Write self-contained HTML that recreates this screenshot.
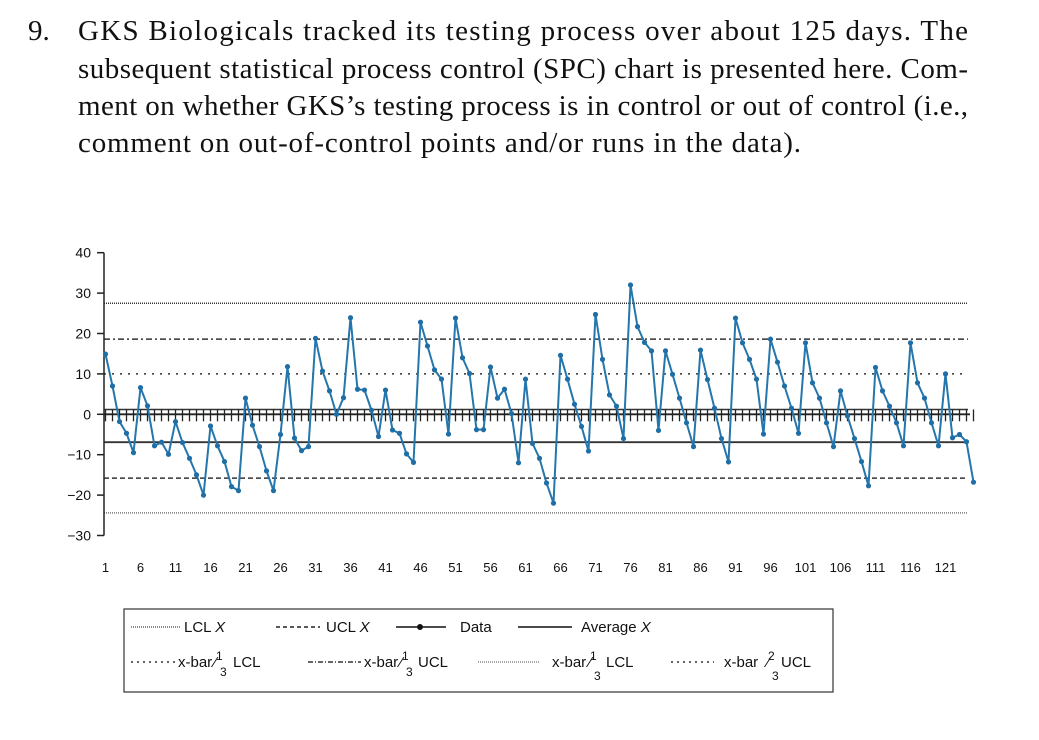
<!DOCTYPE html>
<html><head><meta charset="utf-8"><style>
html,body{margin:0;padding:0;background:#fff;}
svg{display:block;}
</style></head><body>
<svg width="1039" height="740" viewBox="0 0 1039 740" xmlns="http://www.w3.org/2000/svg">
<g font-family="'Liberation Serif', serif" font-size="29" fill="#111">
<text x="28" y="40">9.</text>
<text x="78" y="40" textLength="890" lengthAdjust="spacing">GKS Biologicals tracked its testing process over about 125 days. The</text>
<text x="78" y="78" textLength="890" lengthAdjust="spacing">subsequent statistical process control (SPC) chart is presented here. Com-</text>
<text x="78" y="115" textLength="890" lengthAdjust="spacing">ment on whether GKS’s testing process is in control or out of control (i.e.,</text>
<text x="78" y="152" textLength="723" lengthAdjust="spacing">comment on out-of-control points and/or runs in the data).</text>
</g>
<g id="chart"></g>
<g font-family="'Liberation Sans', sans-serif" font-size="15" fill="#111">
<rect x="124" y="609" width="709" height="83" fill="none" stroke="#333" stroke-width="1.2"/>
<g><line x1="131" y1="627" x2="180" y2="627" stroke="#666" stroke-width="1.5" stroke-dasharray="1,1"/><text x="184" y="632">LCL <tspan font-style="italic">X</tspan></text></g>
<g><line x1="276" y1="627" x2="320" y2="627" stroke="#222" stroke-width="1.5" stroke-dasharray="4,3"/><text x="326" y="632">UCL <tspan font-style="italic">X</tspan></text></g>
<g><line x1="396" y1="627" x2="446" y2="627" stroke="#111" stroke-width="1.5"/><circle cx="420" cy="627" r="3" fill="#111"/><text x="460" y="632">Data</text></g>
<g><line x1="518" y1="627" x2="572" y2="627" stroke="#111" stroke-width="1.5"/><text x="581" y="632">Average <tspan font-style="italic">X</tspan></text></g>
<g><line x1="131" y1="662" x2="175" y2="662" stroke="#333" stroke-width="1.5" stroke-dasharray="2,4"/><text x="178" y="667">x-bar</text><text x="216" y="660" font-size="12">1</text><text x="214" y="667">⁄</text><text x="220" y="676" font-size="12">3</text><text x="233" y="667">LCL</text></g>
<g><line x1="308" y1="662" x2="361" y2="662" stroke="#333" stroke-width="1.5" stroke-dasharray="5,2,1,2"/><text x="364" y="667">x-bar</text><text x="402" y="660" font-size="12">1</text><text x="400" y="667">⁄</text><text x="406" y="676" font-size="12">3</text><text x="418" y="667">UCL</text></g>
<g><line x1="478" y1="662" x2="540" y2="662" stroke="#888" stroke-width="1.5" stroke-dasharray="1,1"/><text x="552" y="667">x-bar</text><text x="590" y="660" font-size="12">1</text><text x="589" y="667">⁄</text><text x="594" y="680" font-size="12">3</text><text x="606" y="667">LCL</text></g>
<g><line x1="671" y1="662" x2="714" y2="662" stroke="#333" stroke-width="1.5" stroke-dasharray="2,4"/><text x="724" y="667">x-bar</text><text x="768" y="660" font-size="12">2</text><text x="767" y="667">⁄</text><text x="772" y="680" font-size="12">3</text><text x="781" y="667">UCL</text></g>
</g>
</svg>
<script>
const days = Array.from({length:125},(_,i)=>i+1);
const values = [14.9,7,-1.8,-4.7,-9.5,6.6,2.1,-7.8,-6.9,-9.9,
-1.8,-7,-10.9,-15,-20,-2.9,-7.8,-11.7,-17.9,-18.9,
4,-2.7,-8,-14,-18.9,-5,11.8,-5.9,-9,-8,
18.8,10.7,5.8,0,4.1,23.9,6.2,6,1,-5.5,
6,-3.9,-4.7,-9.8,-11.9,22.8,16.9,11,8.7,-4.9,
23.8,14,10.1,-3.8,-3.8,11.7,4,6.2,0.2,-12,
8.7,-7.2,-10.9,-17,-22,14.6,8.7,2.5,-3,-9.1,
24.7,13.6,4.8,2,-6,32,21.7,17.8,15.7,-4,
15.7,9.9,4,-2.1,-8,15.9,8.6,1.5,-6,-11.8,
23.8,17.7,13.6,8.7,-4.9,18.6,12.9,7,1.5,-4.7,
17.7,7.8,4,-2.1,-8,5.8,-0.4,-6,-11.7,-17.7,
11.6,5.8,2,-2.1,-7.8,17.7,7.8,4,-2.1,-7.8,
10,-5.8,-5,-6.8,-16.8];
const limitNames = ['lcl-x','ucl-x','xbar-1-3-lcl','xbar-1-3-ucl','xbar-1-3-lcl-2','xbar-2-3-ucl','average-x'];
const limitValues = [27.5,18.6,10,1.2,-24.4,-15.8,-6.9];
const limitDash = ['1,1','6,3,2,3','2,6','none','1,1','5,3','none'];
const yTicks = [40,30,20,10,0,-10,-20,-30];
const xTickLabels = [1,6,11,16,21,26,31,36,41,46,51,56,61,66,71,76,81,86,91,96,101,106,111,116,121];

const NS='http://www.w3.org/2000/svg';
const g=document.getElementById('chart');
const X=d=>105.5+(d-1)*7;
const Y=v=>414.3-v*4.04;
function mk(tag,attrs,parent){const e=document.createElementNS(NS,tag);for(const k in attrs)e.setAttribute(k,attrs[k]);(parent||g).appendChild(e);return e;}

limitValues.forEach((v,i)=>{
  const l=mk('line',{x1:104,x2:968,y1:Y(v),y2:Y(v),stroke:i===4?'#777':'#333','stroke-width':i===6?1.8:1.5,'stroke-dasharray':limitDash[i]});
  
  
});
const xa=mk('line',{x1:104,x2:970,y1:Y(0),y2:Y(0),stroke:'#222','stroke-width':1.8});


days.forEach(d=>{
  const t=mk('line',{x1:X(d),x2:X(d),y1:Y(1.2),y2:Y(0)+7,stroke:'#222','stroke-width':1.3});
  
  
});
const ya=mk('line',{x1:104,x2:104,y1:Y(40),y2:Y(-30),stroke:'#222','stroke-width':1.5});


yTicks.forEach(v=>{
  const t=mk('line',{x1:97,x2:104,y1:Y(v),y2:Y(v),stroke:'#222','stroke-width':1.5});
  
  
  const tx=mk('text',{x:91,y:Y(v)+5,'text-anchor':'end','font-family':"'Liberation Sans', sans-serif",'font-size':14,fill:'#111'});
  tx.textContent=v===0?'0':(v<0?'−'+(-v):String(v));
  
  
});
xTickLabels.forEach(d=>{
  const tx=mk('text',{x:X(d),y:572,'text-anchor':'middle','font-family':"'Liberation Sans', sans-serif",'font-size':13,fill:'#111'});
  tx.textContent=String(d);
  
  
});
const pts=values.map((v,i)=>X(days[i])+','+Y(v)).join(' ');
const pl=mk('polyline',{points:pts,fill:'none',stroke:'#2576ad','stroke-width':2,'stroke-linejoin':'round'});


values.forEach((v,i)=>{
  const c=mk('circle',{cx:X(days[i]),cy:Y(v),r:2.6,fill:'#1f6ea5'});
  
  
});
</script>
</body></html>
